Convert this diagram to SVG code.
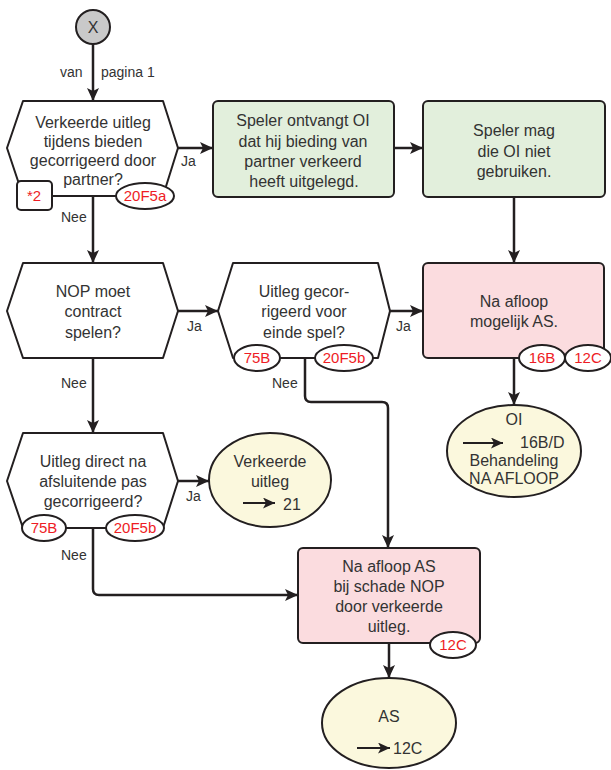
<svg xmlns="http://www.w3.org/2000/svg" width="611" height="770" viewBox="0 0 611 770">
<style>
text{font-family:"Liberation Sans",Arial,sans-serif;fill:#333;}
.t{font-size:16px;text-anchor:middle;}
.l{font-size:14px;}
.r{font-size:15px;fill:#ee1c25;text-anchor:middle;}
.hex{fill:#fff;stroke:#231f20;stroke-width:2;stroke-linejoin:round;}
.green{fill:#e2efdc;stroke:#231f20;stroke-width:2;}
.pink{fill:#fbdcdf;stroke:#231f20;stroke-width:2;}
.yel{fill:#fbf8dd;stroke:#231f20;stroke-width:2;}
.tag{fill:#fff;stroke:#231f20;stroke-width:2;}
.c{fill:none;stroke:#231f20;stroke-width:2.5;marker-end:url(#ah);}
.ia{fill:none;stroke:#231f20;stroke-width:2;marker-end:url(#ah2);}
</style>
<defs>
<marker id="ah" markerUnits="userSpaceOnUse" markerWidth="14" markerHeight="12" refX="13" refY="6" orient="auto">
<path d="M0,0 L13,6 L0,12 L3,6 Z" fill="#231f20"/>
</marker>
<marker id="ah2" markerUnits="userSpaceOnUse" markerWidth="13" markerHeight="11" refX="12" refY="5.5" orient="auto">
<path d="M0,0 L12,5.5 L0,11 L3,5.5 Z" fill="#231f20"/>
</marker>
</defs>

<g id="connectors">
<path class="c" d="M93,44 V101"/>
<path class="c" d="M178,148 H213"/>
<path class="c" d="M394,148 H423"/>
<path class="c" d="M514,197 V263"/>
<path class="c" d="M93,196 V263"/>
<path class="c" d="M178,311 H218"/>
<path class="c" d="M390,311 H423"/>
<path class="c" d="M514,358 V405"/>
<path class="c" d="M93,358 V433"/>
<path class="c" d="M178,481 H209"/>
<path class="c" d="M305,358 V396 Q305,402 311,402 H382 Q388,402 388,408 V548"/>
<path class="c" d="M93,528 V589 Q93,595 99,595 H298"/>
<path class="c" d="M389,643 V678"/>
<text class="l" x="60" y="77">van</text>
<text class="l" x="101" y="77">pagina 1</text>
<text class="l" x="181" y="166">Ja</text>
<text class="l" x="61" y="222">Nee</text>
<text class="l" x="187" y="331">Ja</text>
<text class="l" x="396" y="331">Ja</text>
<text class="l" x="61" y="388">Nee</text>
<text class="l" x="272" y="388">Nee</text>
<text class="l" x="186" y="501">Ja</text>
<text class="l" x="61" y="560">Nee</text>
</g>

<g id="start">
<circle cx="93" cy="27" r="17" fill="#c9c9c9" stroke="#231f20" stroke-width="2"/>
<text class="t" x="93" y="33">X</text>
</g>

<g id="q1">
<path class="hex" d="M23,101 L163,101 L178,148 L163,196 L23,196 L7,148 Z"/>
<text class="t" x="93" y="128">Verkeerde uitleg</text>
<text class="t" x="93" y="147">tijdens bieden</text>
<text class="t" x="93" y="166">gecorrigeerd door</text>
<text class="t" x="93" y="185">partner?</text>
<rect class="tag" x="17" y="181" width="35" height="29" rx="4"/>
<text class="r" x="34" y="201">*2</text>
<ellipse class="tag" cx="145" cy="196" rx="29" ry="13"/>
<text class="r" x="145" y="201">20F5a</text>
</g>

<g id="g1">
<rect class="green" x="213" y="101" width="181" height="96" rx="5"/>
<text class="t" x="303" y="126">Speler ontvangt OI</text>
<text class="t" x="303" y="147">dat hij bieding van</text>
<text class="t" x="303" y="167">partner verkeerd</text>
<text class="t" x="304" y="187">heeft uitgelegd.</text>
</g>

<g id="g2">
<rect class="green" x="423" y="101" width="182" height="96" rx="5"/>
<text class="t" x="514" y="136">Speler mag</text>
<text class="t" x="514" y="157">die OI niet</text>
<text class="t" x="514" y="177">gebruiken.</text>
</g>

<g id="q2">
<path class="hex" d="M23,263 L163,263 L178,311 L163,358 L23,358 L7,311 Z"/>
<text class="t" x="93" y="297">NOP moet</text>
<text class="t" x="93" y="317">contract</text>
<text class="t" x="93" y="338">spelen?</text>
</g>

<g id="q3">
<path class="hex" d="M233,263 L378,263 L390,311 L378,358 L233,358 L218,311 Z"/>
<text class="t" x="304" y="297">Uitleg gecor-</text>
<text class="t" x="304" y="317">rigeerd voor</text>
<text class="t" x="304" y="338">einde spel?</text>
<ellipse class="tag" cx="257" cy="358" rx="23" ry="13"/>
<text class="r" x="257" y="363">75B</text>
<ellipse class="tag" cx="344" cy="358" rx="29" ry="13"/>
<text class="r" x="344" y="363">20F5b</text>
</g>

<g id="p1">
<rect class="pink" x="423" y="263" width="181" height="95" rx="5"/>
<text class="t" x="514" y="307">Na afloop</text>
<text class="t" x="514" y="327">mogelijk AS.</text>
<ellipse class="tag" cx="542" cy="358" rx="23" ry="13"/>
<text class="r" x="542" y="363">16B</text>
<ellipse class="tag" cx="588" cy="358" rx="23" ry="13"/>
<text class="r" x="588" y="363">12C</text>
</g>

<g id="e1">
<ellipse class="yel" cx="514" cy="451" rx="67" ry="46"/>
<text class="t" x="514" y="425">OI</text>
<path class="ia" d="M463,443 H503"/>
<text class="t" x="520" y="448" style="text-anchor:start">16B/D</text>
<text class="t" x="514" y="466">Behandeling</text>
<text class="t" x="514" y="484">NA AFLOOP</text>
</g>

<g id="q4">
<path class="hex" d="M23,433 L163,433 L178,481 L163,528 L23,528 L7,481 Z"/>
<text class="t" x="93" y="467">Uitleg direct na</text>
<text class="t" x="93" y="487">afsluitende pas</text>
<text class="t" x="93" y="507">gecorrigeerd?</text>
<ellipse class="tag" cx="44" cy="528" rx="22" ry="13"/>
<text class="r" x="44" y="533">75B</text>
<ellipse class="tag" cx="135" cy="528" rx="29" ry="13"/>
<text class="r" x="135" y="533">20F5b</text>
</g>

<g id="e2">
<ellipse class="yel" cx="270" cy="480" rx="61" ry="47"/>
<text class="t" x="270" y="467">Verkeerde</text>
<text class="t" x="270" y="487">uitleg</text>
<path class="ia" d="M243,503 H275"/>
<text class="t" x="283" y="510" style="text-anchor:start">21</text>
</g>

<g id="p2">
<rect class="pink" x="298" y="548" width="182" height="95" rx="5"/>
<text class="t" x="389" y="572">Na afloop AS</text>
<text class="t" x="389" y="592">bij schade NOP</text>
<text class="t" x="389" y="612">door verkeerde</text>
<text class="t" x="389" y="632">uitleg.</text>
<ellipse class="tag" cx="453" cy="645" rx="23" ry="13"/>
<text class="r" x="453" y="650">12C</text>
</g>

<g id="e3">
<ellipse class="yel" cx="389" cy="723" rx="67" ry="45"/>
<text class="t" x="389" y="722">AS</text>
<path class="ia" d="M357,748 H390"/>
<text class="t" x="393" y="754" style="text-anchor:start">12C</text>
</g>
</svg>
